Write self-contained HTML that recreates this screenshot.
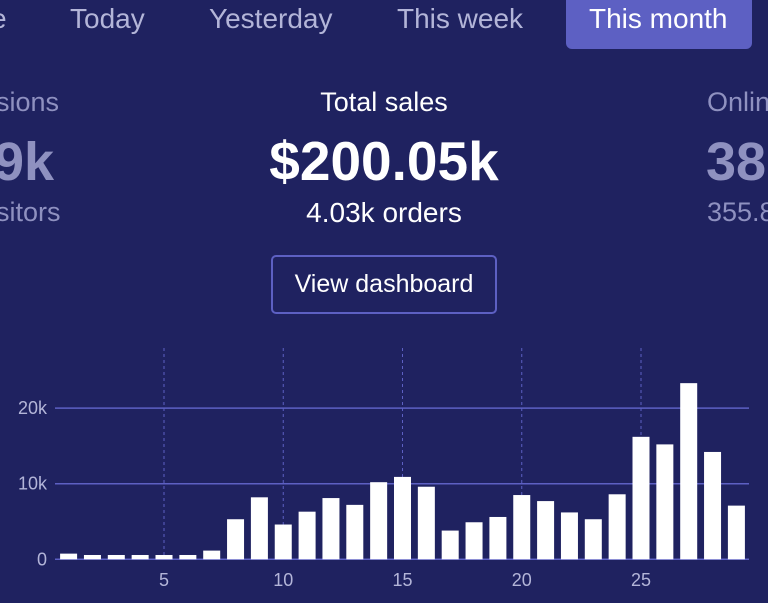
<!DOCTYPE html>
<html><head><meta charset="utf-8"><style>
body{margin:0;width:768px;height:610px;overflow:hidden;background:#1f2260;font-family:"Liberation Sans",sans-serif;position:relative}
.a{position:absolute;white-space:nowrap}
.tab{top:3px;font-size:28px;color:#b3b5d8}
.lbl{font-size:27px}
</style></head><body>
<div class="a" style="left:566px;top:-6px;width:186px;height:55px;background:#5d60c3;border-radius:6px"></div>
<div class="a tab" style="left:-9px">e</div>
<div class="a tab" style="left:70px">Today</div>
<div class="a tab" style="left:209px">Yesterday</div>
<div class="a tab" style="left:397px">This week</div>
<div class="a tab" style="left:589px;color:#fff">This month</div>

<div class="a lbl" style="left:-4px;top:87px;color:#8f91c0">sions</div>
<div class="a" style="left:-6px;top:131px;font-size:54px;font-weight:bold;color:#8f91c0">9k</div>
<div class="a lbl" style="left:-4px;top:197px;color:#8f91c0">sitors</div>

<div class="a" style="left:0;width:768px;text-align:center;top:87px;color:#fff;font-size:27px">Total sales</div>
<div class="a" style="left:0;width:768px;text-align:center;top:129px;font-size:55px;font-weight:bold;color:#fff">$200.05k</div>
<div class="a" style="left:0;width:768px;text-align:center;top:197px;color:#fff;font-size:28px">4.03k orders</div>

<div class="a lbl" style="left:707px;top:87px;color:#8f91c0">Online</div>
<div class="a" style="left:706px;top:131px;font-size:54px;font-weight:bold;color:#8f91c0">38</div>
<div class="a lbl" style="left:707px;top:197px;color:#8f91c0">355.8</div>

<div class="a" style="left:271px;top:255px;width:222px;height:55px;border:2px solid #5d60c3;border-radius:5px;color:#fff;font-size:25px;text-align:center;line-height:55px">View dashboard</div>

<svg class="a" style="left:0;top:0" width="768" height="610"></svg>
<div class="a" style="left:0;top:603px;width:768px;height:7px;background:#fff"></div>
<script>
const days=[1,2,3,4,5,6,7,8,9,10,11,12,13,14,15,16,17,18,19,20,21,22,23,24,25,26,27,28,29];
const sales=[0.75,0.57,0.57,0.57,0.57,0.57,1.15,5.3,8.2,4.6,6.3,8.1,7.2,10.2,10.9,9.6,3.8,4.9,5.6,8.5,7.7,6.2,5.3,8.6,16.2,15.2,23.3,14.2,7.1];
const yTicks=[0,10,20];
const yTickLabels=["0","10k","20k"];
const xTicks=[5,10,15,20,25];
const NS="http://www.w3.org/2000/svg";
const svg=document.querySelector('svg');
const x=d=>68.6+(d-1)*23.85;
const y=v=>559.3-v*7.56;
function mk(t,a){const e=document.createElementNS(NS,t);for(const k in a)e.setAttribute(k,a[k]);svg.appendChild(e);return e;}
xTicks.forEach(d=>{
  const l=mk('line',{x1:x(d),x2:x(d),y1:348,y2:559,stroke:'#5d60c3','stroke-dasharray':'3,3','stroke-width':1});
  
  
  const t=mk('text',{x:x(d),y:586,fill:'#b3b5d8','font-size':18,'text-anchor':'middle','font-family':'Liberation Sans'});
  t.textContent=d;
  
  
});
yTicks.forEach((v,i)=>{
  const l=mk('line',{x1:55,x2:749,y1:y(v),y2:y(v),stroke:'#5d60c3','stroke-width':1.5});
  
  
  const t=mk('text',{x:47,y:y(v)+6,fill:'#b3b5d8','font-size':18,'text-anchor':'end','font-family':'Liberation Sans'});
  t.textContent=yTickLabels[i];
  
  
});
days.forEach((d,i)=>{
  const r=mk('rect',{x:x(d)-8.5,y:y(sales[i]),width:17,height:y(0)-y(sales[i]),fill:'#fff'});
  
  
});
</script>
</body></html>
